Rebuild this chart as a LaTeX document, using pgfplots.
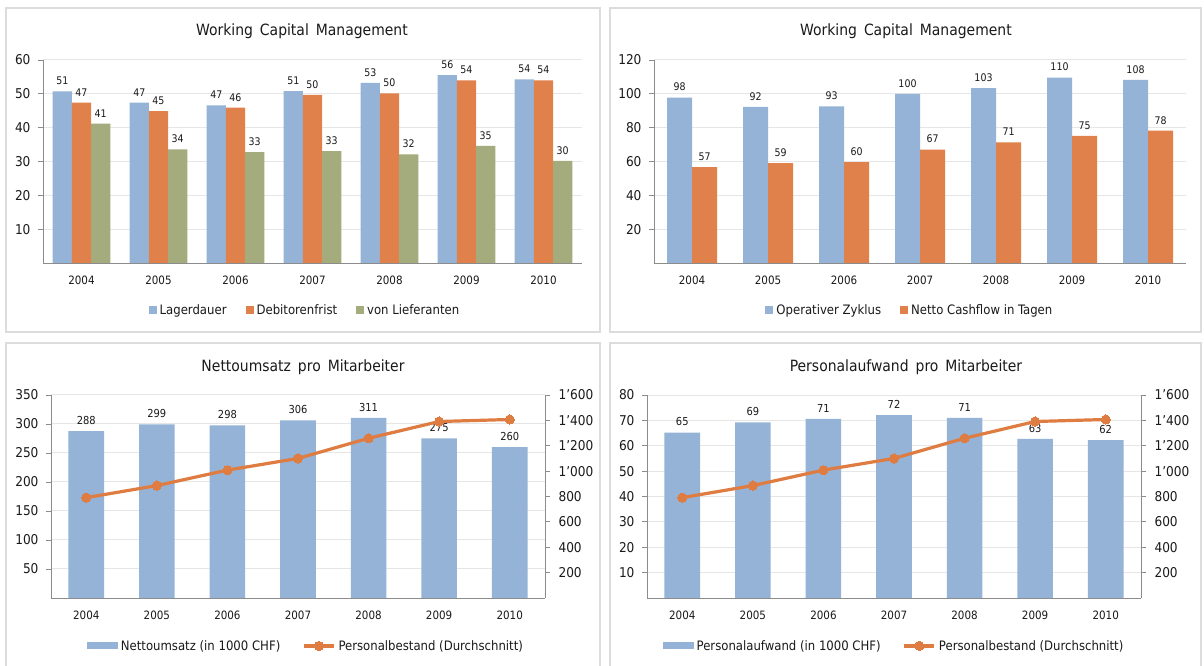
\documentclass[border=0pt]{standalone}
\usepackage{fontspec}
\setmainfont{DejaVu Sans Condensed}
\usepackage{pgfplots}
\pgfplotsset{compat=1.18}
\definecolor{cblue}{HTML}{95B3D7}
\definecolor{corange}{HTML}{E0804A}
\definecolor{cgreen}{HTML}{A4AC7E}
\definecolor{cline}{HTML}{DE7C41}
\definecolor{cgrid}{HTML}{E6E6E6}
\definecolor{caxis}{HTML}{8C8C8C}
\definecolor{cframe}{HTML}{DCDCDC}
\definecolor{ctext}{HTML}{1A1A1A}

\pgfplotsset{
  /pgf/number format/assume math mode=true,
  base/.style={
    scale only axis, anchor=south west,
    xmin=-0.5, xmax=6.5, ymin=0,
    xtick={0,1,2,3,4,5,6},
    xticklabels={2004,2005,2006,2007,2008,2009,2010},
    axis x line*=bottom, axis y line*=left,
    axis line style={caxis, line width=0.9pt},
    tick align=outside, major tick length=5pt,
    ytick style={caxis, line width=0.9pt},
    xtick style={draw=none},
    ymajorgrids, grid style={cgrid, line width=1pt},
    tick label style={text=ctext},
    yticklabel style={font=\fontsize{13.5}{15}\selectfont, xshift=-4pt},
    xticklabel style={font=\fontsize{11.5}{13}\selectfont, yshift=-4pt},
    legend style={draw=none, fill=none, font=\fontsize{13}{15}\selectfont, text=ctext,
      /tikz/every even column/.append style={column sep=17pt},
      /tikz/every odd column/.append style={column sep=1pt}},
    legend cell align=left,
    nodes near coords={\pgfmathprintnumber[fixed,precision=0]{\pgfplotspointmeta}},
    every node near coord/.append style={font=\fontsize{10.5}{12}\selectfont, text=ctext, yshift=3pt},
  },
  sqleg/.style={legend image code/.code={\fill[##1] (0pt,-4pt) rectangle (8pt,4pt);}},
  wideleg/.style={legend image code/.code={\fill[##1] (0pt,-3.5pt) rectangle (31pt,3.5pt);}},
  lineleg/.style={legend image code/.code={\draw[##1,mark repeat=2,mark phase=2] plot coordinates {(0pt,0pt) (15pt,0pt) (30pt,0pt)};}},
  rightax/.style={
    scale only axis, anchor=south west,
    xmin=-0.5, xmax=6.5, ymin=0, ymax=1600,
    axis x line=none, axis y line*=right,
    axis line style={caxis, line width=0.9pt},
    tick align=outside, major tick length=5pt,
    ytick style={caxis, line width=0.9pt},
    ytick={200,400,600,800,1000,1200,1400,1600},
    yticklabels={200,400,600,800,1'000,1'200,1'400,1'600},
    yticklabel style={font=\fontsize{13.5}{15}\selectfont, text=ctext, xshift=5pt},
    legend style={draw=none, fill=none, font=\fontsize{13}{15}\selectfont, text=ctext,
      /tikz/every even column/.append style={column sep=20pt},
      /tikz/every odd column/.append style={column sep=1pt}},
    legend cell align=left,
  },
}

\begin{document}
\begin{tikzpicture}[x=1pt,y=1pt]
\useasboundingbox (0,0) rectangle (1204,666);
\fill[white] (0,0) rectangle (1204,666);
% panel frames
\draw[cframe, line width=1.5pt] (6,658) rectangle (600,334);
\draw[cframe, line width=1.5pt] (610,658) rectangle (1201,334);
\draw[cframe, line width=1.5pt] (6,323) rectangle (600,-5);
\draw[cframe, line width=1.5pt] (610,323) rectangle (1201,-5);
% titles
\node[text=ctext, font=\fontsize{15.5}{18}\selectfont] at (302,635) {Working\, Capital\, Management};
\node[text=ctext, font=\fontsize{15.5}{18}\selectfont] at (906,635) {Working\, Capital\, Management};
\node[text=ctext, font=\fontsize{15.5}{18}\selectfont] at (303,299) {Nettoumsatz\, pro\, Mitarbeiter};
\node[text=ctext, font=\fontsize{15.5}{18}\selectfont] at (906,299) {Personalaufwand\, pro\, Mitarbeiter};

% ---------- top left
\begin{axis}[base, at={(43pt,403pt)}, width=539pt, height=203pt,
  ymax=60, ytick={10,20,30,40,50,60},
  ybar=0pt, bar width=19.2pt,
  legend columns=3, legend style={at={(0.486,-0.232)}, anchor=center}]
\addplot[fill=cblue, draw=none, sqleg] coordinates {(0,50.7) (1,47.4) (2,46.6) (3,50.8) (4,53.2) (5,55.5) (6,54.3)};
\addlegendentry{Lagerdauer}
\addplot[fill=corange, draw=none, sqleg] coordinates {(0,47.4) (1,44.9) (2,45.9) (3,49.7) (4,50.1) (5,54.0) (6,54.0)};
\addlegendentry{Debitorenfrist}
\addplot[fill=cgreen, draw=none, sqleg] coordinates {(0,41.2) (1,33.6) (2,32.8) (3,33.1) (4,32.1) (5,34.6) (6,30.2)};
\addlegendentry{von Lieferanten}
\end{axis}

% ---------- top right
\begin{axis}[base, at={(654pt,403pt)}, width=532pt, height=203pt,
  ymax=120, ytick={20,40,60,80,100,120},
  ybar=0pt, bar width=25pt,
  legend columns=2, legend style={at={(0.481,-0.232)}, anchor=center}]
\addplot[fill=cblue, draw=none, sqleg] coordinates {(0,97.8) (1,92.3) (2,92.6) (3,100.0) (4,103.4) (5,109.6) (6,108.2)};
\addlegendentry{Operativer Zyklus}
\addplot[fill=corange, draw=none, sqleg] coordinates {(0,56.6) (1,59.0) (2,59.7) (3,67.0) (4,71.3) (5,75.2) (6,78.2)};
\addlegendentry{Netto Cashflow in Tagen}
\end{axis}

% ---------- bottom left
\begin{axis}[base, at={(51pt,68pt)}, width=494pt, height=203pt,
  ymax=350, ytick={50,100,150,200,250,300,350},
  ybar=0pt, bar width=35.6pt,
  every node near coord/.append style={font=\fontsize{11}{13}\selectfont}]
\addplot[fill=cblue, draw=none] coordinates {(0,287.6) (1,299.4) (2,297.6) (3,306.2) (4,310.6) (5,275.0) (6,260.0)};
\end{axis}
\begin{axis}[rightax, at={(51pt,68pt)}, width=494pt, height=203pt,
  legend columns=2, legend style={at={(0.516,-0.236)}, anchor=center}]
\addlegendimage{fill=cblue, draw=none, wideleg}
\addlegendentry{Nettoumsatz (in 1000 CHF)}
\addplot[cline, line width=3.2pt, mark=*, mark size=4.6pt, mark options={fill=cline, draw=cline, line width=0pt}, lineleg]
  coordinates {(0,791) (1,886) (2,1008) (3,1100) (4,1259) (5,1391) (6,1407)};
\addlegendentry{Personalbestand (Durchschnitt)}
\end{axis}

% ---------- bottom right
\begin{axis}[base, at={(647pt,68pt)}, width=494pt, height=203pt,
  ymax=80, ytick={10,20,30,40,50,60,70,80},
  ybar=0pt, bar width=35.6pt,
  every node near coord/.append style={font=\fontsize{11}{13}\selectfont}]
\addplot[fill=cblue, draw=none] coordinates {(0,65.2) (1,69.2) (2,70.6) (3,72.1) (4,71.0) (5,62.7) (6,62.2)};
\end{axis}
\begin{axis}[rightax, at={(647pt,68pt)}, width=494pt, height=203pt,
  legend columns=2, legend style={at={(0.5,-0.236)}, anchor=center}]
\addlegendimage{fill=cblue, draw=none, wideleg}
\addlegendentry{Personalaufwand (in 1000 CHF)}
\addplot[cline, line width=3.2pt, mark=*, mark size=4.6pt, mark options={fill=cline, draw=cline, line width=0pt}, lineleg]
  coordinates {(0,791) (1,886) (2,1008) (3,1100) (4,1259) (5,1391) (6,1407)};
\addlegendentry{Personalbestand (Durchschnitt)}
\end{axis}
\end{tikzpicture}
\end{document}
